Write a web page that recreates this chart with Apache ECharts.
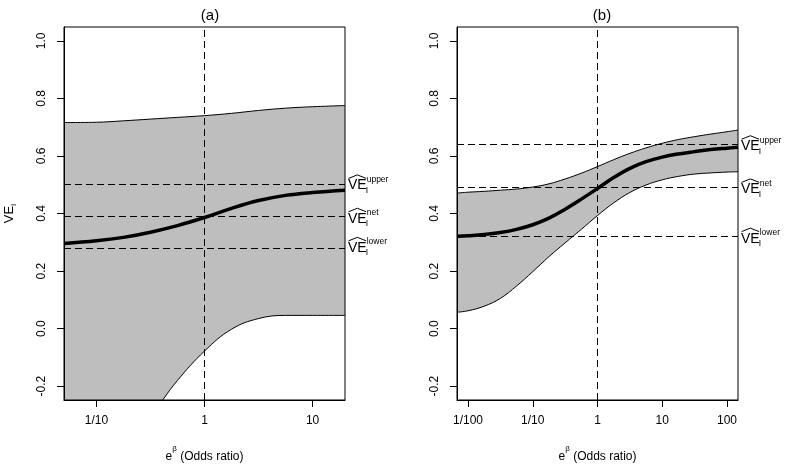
<!DOCTYPE html>
<html><head><meta charset="utf-8">
<script src="https://cdn.jsdelivr.net/npm/echarts@6/dist/echarts.min.js"></script>
<style>html,body{margin:0;padding:0;background:#fff}#c{width:789px;height:468px}</style>
</head><body><div id="c"></div>
<script>
const FONT = '"Liberation Sans",Arial,Helvetica,sans-serif';

// ---- panel (a): x is log10(odds ratio)
const xA = [-1.3, -1.0, -0.75, -0.5, -0.25, 0, 0.25, 0.5, 0.75, 1.0, 1.3];
const upperA = [0.716, 0.717, 0.722, 0.728, 0.734, 0.740, 0.748, 0.758, 0.766, 0.771, 0.775];
const netA   = [0.296, 0.305, 0.317, 0.335, 0.358, 0.386, 0.418, 0.445, 0.463, 0.473, 0.481];
const lowerA = [-0.62, -0.48, -0.38, -0.30, -0.18, -0.078, -0.002, 0.035, 0.046, 0.046, 0.046];
const refValuesA = [0.501, 0.385, 0.284];

// ---- panel (b)
const xB = [-2.17, -2, -1.75, -1.5, -1.25, -1, -0.75, -0.5, -0.25, 0, 0.25, 0.5, 0.75, 1, 1.25, 1.5, 1.75, 2, 2.17];
const upperB = [0.471, 0.474, 0.477, 0.481, 0.485, 0.492, 0.503, 0.520, 0.540, 0.563, 0.587, 0.609, 0.628, 0.644, 0.657, 0.667, 0.676, 0.684, 0.690];
const netB   = [0.321, 0.323, 0.327, 0.334, 0.345, 0.361, 0.384, 0.415, 0.450, 0.487, 0.525, 0.557, 0.580, 0.596, 0.607, 0.615, 0.622, 0.627, 0.630];
const lowerB = [0.057, 0.062, 0.078, 0.105, 0.148, 0.198, 0.250, 0.298, 0.345, 0.393, 0.437, 0.473, 0.499, 0.517, 0.529, 0.537, 0.541, 0.544, 0.545];
const refValuesB = [0.637, 0.487, 0.316];

const refNames = ['upper', 'net', 'lower'];

// ---- ticks
const xTickValsA = [-1, 0, 1];
const xTickLabsA = ['1/10', '1', '10'];
const xTickValsB = [-2, -1, 0, 1, 2];
const xTickLabsB = ['1/100', '1/10', '1', '10', '100'];
const yTickVals = [-0.2, 0.0, 0.2, 0.4, 0.6, 0.8, 1.0];
const yTickLabs = ['-0.2', '0.0', '0.2', '0.4', '0.6', '0.8', '1.0'];

function lab(vals, labs) {
  return v => { for (let i = 0; i < vals.length; i++) if (Math.abs(vals[i] - v) < 1e-6) return labs[i]; return ''; };
}
const pairs = (xs, ys) => xs.map((x, i) => [x, ys[i]]);

const chart = echarts.init(document.getElementById('c'), null, {renderer: 'canvas'});
const GRAY = '#bebebe';
const TXT = {color: '#000', fontFamily: FONT, fontSize: 12};
const SMOOTH = 0.4;

function xAxisFor(gi, min, max, vals, labs) {
  return {
    type: 'value', gridIndex: gi, min: min, max: max, z: 10,
    axisLine: {show: true, onZero: false, lineStyle: {color: '#000', width: 1}},
    axisTick: {show: true, length: 7, lineStyle: {color: '#000'}, customValues: vals},
    axisLabel: Object.assign({customValues: vals, formatter: lab(vals, labs), margin: 15}, TXT),
    splitLine: {show: false},
    name: '{n|e}{p|\u03b2}{n| (Odds ratio)}',
    nameLocation: 'middle', nameGap: 45,
    nameTextStyle: {fontFamily: FONT, color: '#000', rich: {
      n: {fontFamily: FONT, fontSize: 12, color: '#000', lineHeight: 18, verticalAlign: 'bottom'},
      p: {fontFamily: FONT, fontSize: 8, color: '#000', verticalAlign: 'top'}
    }}
  };
}
function yAxisFor(gi, withName) {
  const ax = {
    type: 'value', gridIndex: gi, min: -0.248, max: 1.048, z: 10,
    axisLine: {show: true, onZero: false, lineStyle: {color: '#000', width: 1}},
    axisTick: {show: true, length: 7, lineStyle: {color: '#000'}, customValues: yTickVals},
    axisLabel: Object.assign({customValues: yTickVals, formatter: lab(yTickVals, yTickLabs), rotate: 90, margin: 16}, TXT),
    splitLine: {show: false}
  };
  if (withName) {
    ax.name = '{v|VE}{s|I}';
    ax.nameLocation = 'middle';
    ax.nameRotate = 90;
    ax.nameGap = 46;
    ax.nameTextStyle = {fontFamily: FONT, color: '#000', rich: {
      v: {fontFamily: FONT, fontSize: 13, color: '#000', lineHeight: 18, verticalAlign: 'middle'},
      s: {fontFamily: FONT, fontSize: 8, color: '#000', verticalAlign: 'bottom'}
    }};
  }
  return ax;
}

function panelSeries(gi, xs, upper, net, lower, refs) {
  const dash = {color: '#000', width: 1, type: [7, 4]};
  return [
    // upper bound: grey fill down to the bottom of the plot
    {type: 'line', xAxisIndex: gi, yAxisIndex: gi, data: pairs(xs, upper), symbol: 'none', smooth: SMOOTH,
     lineStyle: {color: '#000', width: 1}, areaStyle: {color: GRAY, opacity: 1, origin: 'start'}, silent: true, z: 1},
    // lower bound: white fill below it, leaving the grey band between the two bounds
    {type: 'line', xAxisIndex: gi, yAxisIndex: gi, data: pairs(xs, lower), symbol: 'none', smooth: SMOOTH,
     lineStyle: {color: '#000', width: 1}, areaStyle: {color: '#fff', opacity: 1, origin: 'start'}, silent: true, z: 1},
    {type: 'line', xAxisIndex: gi, yAxisIndex: gi, data: [], symbol: 'none', silent: true, z: 3,
     markLine: {symbol: ['none', 'none'], silent: true, animation: false, label: {show: false},
       lineStyle: dash, data: [{xAxis: 0}].concat(refs.map(v => ({yAxis: v})))}},
    {type: 'line', xAxisIndex: gi, yAxisIndex: gi, data: pairs(xs, net), symbol: 'none', smooth: SMOOTH,
     lineStyle: {color: '#000', width: 3.5}, silent: true, z: 4}
  ];
}

const option = {
  animation: false,
  backgroundColor: '#fff',
  title: [
    {text: '(a)', left: 205, top: 3, textAlign: 'center', textStyle: {fontFamily: FONT, fontSize: 15, fontWeight: 'normal', color: '#000'}},
    {text: '(b)', left: 597, top: 3, textAlign: 'center', textStyle: {fontFamily: FONT, fontSize: 15, fontWeight: 'normal', color: '#000'}}
  ],
  grid: [
    {left: 64, right: 444, top: 27, bottom: 68, show: true, z: 10, borderColor: '#000', borderWidth: 1, backgroundColor: 'transparent'},
    {left: 457, right: 51, top: 27, bottom: 68, show: true, z: 10, borderColor: '#000', borderWidth: 1, backgroundColor: 'transparent'}
  ],
  xAxis: [xAxisFor(0, -1.3, 1.3, xTickValsA, xTickLabsA), xAxisFor(1, -2.17, 2.17, xTickValsB, xTickLabsB)],
  yAxis: [yAxisFor(0, true), yAxisFor(1, false)],
  series: panelSeries(0, xA, upperA, netA, lowerA, refValuesA)
    .concat(panelSeries(1, xB, upperB, netB, lowerB, refValuesB))
};
chart.setOption(option);

// reference-line labels: hat(VE)_I^name, placed at the right edge of each panel
const mctx = document.createElement('canvas').getContext('2d');
function textW(t, size) { mctx.font = size + 'px ' + FONT; return mctx.measureText(t).width; }
const VE_SIZE = 14, SUP_SIZE = 8.5;
function refLabel(gi, xmax, v, name) {
  const p = chart.convertToPixel({gridIndex: gi}, [xmax, v]);
  const w = textW('VE', VE_SIZE);
  const top = -VE_SIZE * 0.36;
  return {type: 'group', x: p[0] + 3, y: p[1] + 1, silent: true, children: [
    {type: 'text', x: 0, y: 0, style: {text: 'VE', font: VE_SIZE + 'px ' + FONT, fill: '#000', textVerticalAlign: 'middle', verticalAlign: 'middle'}},
    {type: 'text', x: w - 1, y: 5, style: {text: 'I', font: SUP_SIZE + 'px ' + FONT, fill: '#000', textVerticalAlign: 'middle', verticalAlign: 'middle'}},
    {type: 'text', x: w, y: top - 1, style: {text: name, font: SUP_SIZE + 'px ' + FONT, fill: '#000', textVerticalAlign: 'middle', verticalAlign: 'middle'}},
    {type: 'polyline', shape: {points: [[0.5, top - 2], [w / 2, top - 5.5], [w - 0.5, top - 2]]}, style: {stroke: '#000', lineWidth: 1, fill: null}}
  ]};
}
const g = [];
refValuesA.forEach((v, i) => g.push(refLabel(0, 1.3, v, refNames[i])));
refValuesB.forEach((v, i) => g.push(refLabel(1, 2.17, v, refNames[i])));
chart.setOption({graphic: g});
</script>
</body></html>
